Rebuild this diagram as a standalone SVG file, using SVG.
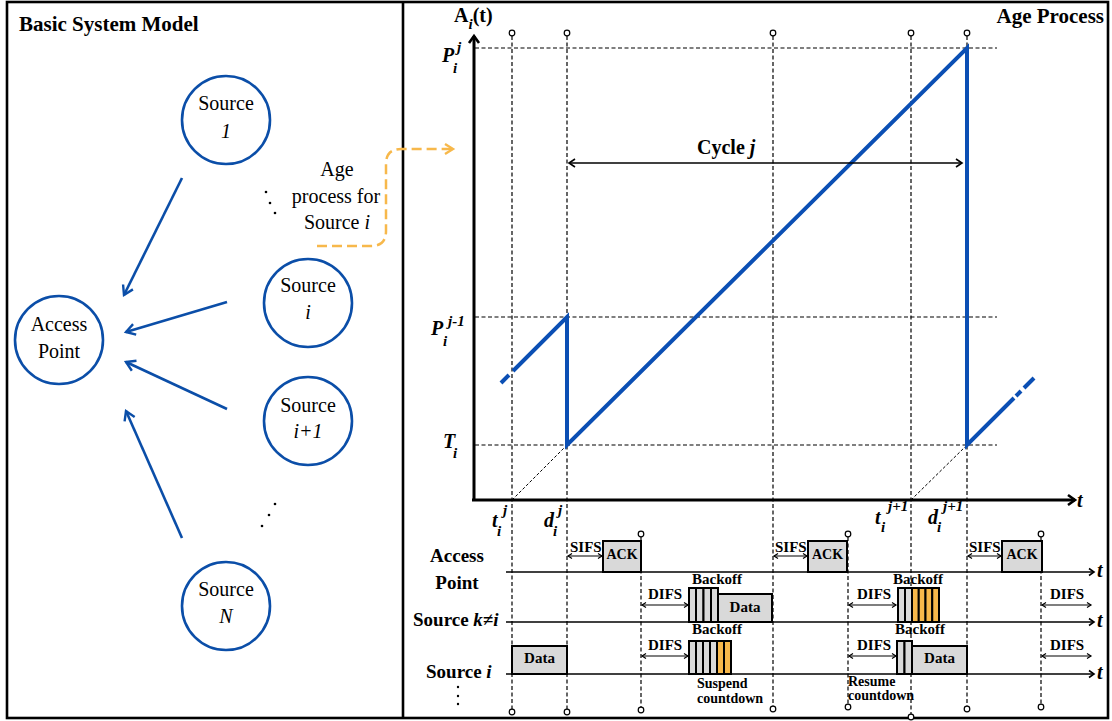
<svg xmlns="http://www.w3.org/2000/svg" width="1112" height="721" viewBox="0 0 1112 721">
<style>
.t{font-family:"Liberation Serif","Times New Roman",serif;fill:#000}
.b{font-weight:bold}
.it{font-style:italic}
.node{fill:#fff;stroke:#0b4ea8;stroke-width:2.6}
.nt{font-size:20px;text-anchor:middle}
.conn{stroke:#0b4ea8;stroke-width:2.6;fill:none;marker-end:url(#ab)}
.vd{stroke:#000;stroke-width:1.2;stroke-dasharray:4 2.5;fill:none}
.hd{stroke:#000;stroke-width:1.1;stroke-dasharray:4 2.5;fill:none}
.pin{fill:#fff;stroke:#000;stroke-width:1.2}
.age{stroke:#0b4fb4;stroke-width:4;fill:none}
.tl{stroke:#000;stroke-width:1.5;fill:none;marker-end:url(#as)}
.ia{stroke:#000;stroke-width:1.1;fill:none;marker-start:url(#ai);marker-end:url(#ai)}
.gb{fill:#d9d9d9;stroke:#000;stroke-width:2}
.ob{fill:#f7b84b;stroke:#000;stroke-width:2}
.lab{font-size:15px;font-weight:bold}
.sm{font-size:14px;font-weight:bold}
.ax{font-size:20px;font-weight:bold;font-style:italic}
.sp{font-size:15px;font-weight:bold;font-style:italic}
</style>
<defs>
<marker id="ab" markerUnits="userSpaceOnUse" markerWidth="14" markerHeight="14" refX="11" refY="7" orient="auto"><path d="M2,1.5 L11,7 L2,12.5" fill="none" stroke="#0b4ea8" stroke-width="2.4"/></marker>
<marker id="ao" markerUnits="userSpaceOnUse" markerWidth="14" markerHeight="14" refX="11" refY="7" orient="auto"><path d="M3,2 L11,7 L3,12" fill="none" stroke="#f7b84b" stroke-width="2.4"/></marker>
<marker id="ak" markerUnits="userSpaceOnUse" markerWidth="14" markerHeight="14" refX="11" refY="7" orient="auto"><path d="M4,2 L11,7 L4,12" fill="none" stroke="#000" stroke-width="2.6"/></marker>
<marker id="as" markerUnits="userSpaceOnUse" markerWidth="10" markerHeight="10" refX="8" refY="5" orient="auto"><path d="M3,1.5 L8,5 L3,8.5" fill="none" stroke="#000" stroke-width="1.6"/></marker>
<marker id="ai" markerUnits="userSpaceOnUse" markerWidth="8" markerHeight="8" refX="6" refY="4" orient="auto-start-reverse"><path d="M2,1.5 L6,4 L2,6.5" fill="none" stroke="#000" stroke-width="1.2"/></marker>
<marker id="ac" markerUnits="userSpaceOnUse" markerWidth="12" markerHeight="12" refX="9" refY="6" orient="auto-start-reverse"><path d="M3,2 L9,6 L3,10" fill="none" stroke="#000" stroke-width="1.6"/></marker>
</defs>
<rect x="0" y="0" width="1112" height="721" fill="#fff"/>
<!-- frames -->
<rect x="7" y="2" width="1101" height="716" fill="none" stroke="#000" stroke-width="2.6"/>
<line x1="403" y1="2" x2="403" y2="718" stroke="#000" stroke-width="2.6"/>
<text class="t b" x="19" y="31" font-size="21">Basic System Model</text>
<text class="t b" x="1104" y="23" font-size="21" text-anchor="end">Age Process</text>

<!-- nodes -->
<g id="source-1"><circle class="node" cx="226" cy="120" r="44"/><text class="t nt" x="226" y="110">Source</text><text class="t nt it" x="226" y="138">1</text></g>
<g id="access-point"><circle class="node" cx="59" cy="340" r="44"/><text class="t nt" x="59" y="331">Access</text><text class="t nt" x="59" y="358">Point</text></g>
<g id="source-i"><circle class="node" cx="308" cy="303" r="44"/><text class="t nt" x="308" y="292">Source</text><text class="t nt it" x="308" y="319">i</text></g>
<g id="source-i1"><circle class="node" cx="308" cy="421" r="44"/><text class="t nt" x="308" y="412">Source</text><text class="t nt it" x="308" y="438">i+1</text></g>
<g id="source-N"><circle class="node" cx="226" cy="606" r="44"/><text class="t nt" x="226" y="596">Source</text><text class="t nt it" x="226" y="623">N</text></g>

<g id="dots" fill="#000">
<circle cx="266" cy="192" r="1.3"/><circle cx="270" cy="203" r="1.3"/><circle cx="275" cy="213" r="1.3"/>
<circle cx="275" cy="504" r="1.3"/><circle cx="269" cy="515" r="1.3"/><circle cx="262" cy="526" r="1.3"/>
<circle cx="458" cy="687" r="1.2"/><circle cx="458" cy="696" r="1.2"/><circle cx="458" cy="704" r="1.2"/>
</g>

<g id="age-label"><text class="t nt" x="337" y="176">Age</text><text class="t nt" x="336" y="203">process for</text><text class="t nt" x="337" y="229">Source <tspan class="it">i</tspan></text></g>

<g id="connectors">
<line class="conn" x1="182" y1="178" x2="124" y2="295"/>
<line class="conn" x1="227" y1="302" x2="126" y2="332"/>
<line class="conn" x1="227" y1="409" x2="126" y2="362"/>
<line class="conn" x1="182" y1="538" x2="126" y2="411"/>
<path d="M317,246 H371 Q386,246 386,231 V164 Q386,149 401,149 H453" fill="none" stroke="#f7b84b" stroke-width="2.5" stroke-dasharray="10 5" marker-end="url(#ao)"/>
</g>

<!-- age plot -->
<g id="age-plot">
<line class="hd" x1="475" y1="48" x2="997" y2="48"/>
<line class="hd" x1="475" y1="317" x2="997" y2="317"/>
<line class="hd" x1="475" y1="445" x2="997" y2="445"/>
<line class="vd" x1="512" y1="36" x2="512" y2="709"/>
<line class="vd" x1="567" y1="36" x2="567" y2="709"/>
<line class="vd" x1="773" y1="36" x2="773" y2="706"/>
<line class="vd" x1="911" y1="36" x2="911" y2="714"/>
<line class="vd" x1="967" y1="36" x2="967" y2="706"/>
<line class="vd" x1="641" y1="537" x2="641" y2="707"/>
<line class="vd" x1="848" y1="537" x2="848" y2="704"/>
<line class="vd" x1="1041" y1="537" x2="1041" y2="704"/>
<circle class="pin" cx="512" cy="33" r="2.8"/><circle class="pin" cx="567" cy="33" r="2.8"/><circle class="pin" cx="773" cy="33" r="2.8"/><circle class="pin" cx="911" cy="33" r="2.8"/><circle class="pin" cx="967" cy="33" r="2.8"/>
<circle class="pin" cx="641" cy="534" r="2.8"/><circle class="pin" cx="848" cy="534" r="2.8"/><circle class="pin" cx="1041" cy="534" r="2.8"/>
<circle class="pin" cx="512" cy="712" r="2.8"/><circle class="pin" cx="567" cy="712" r="2.8"/><circle class="pin" cx="641" cy="710" r="2.8"/><circle class="pin" cx="773" cy="709" r="2.8"/><circle class="pin" cx="848" cy="707" r="2.8"/><circle class="pin" cx="911" cy="717" r="2.8"/><circle class="pin" cx="967" cy="709" r="2.8"/><circle class="pin" cx="1041" cy="707" r="2.8"/>
<line x1="512" y1="500" x2="567" y2="445" stroke="#000" stroke-width="1" stroke-dasharray="3 2"/>
<line x1="911" y1="500" x2="967" y2="445" stroke="#000" stroke-width="1" stroke-dasharray="3 2"/>
<line class="age" x1="501" y1="383" x2="509" y2="375"/>
<polyline class="age" points="513,371 567,317 567,445 967,48 967,445 1014,398"/>
<line class="age" x1="1016" y1="396" x2="1021" y2="391"/>
<line class="age" x1="1024" y1="388" x2="1034" y2="378"/>
<line x1="474" y1="501" x2="474" y2="36" stroke="#000" stroke-width="3" marker-end="url(#ak)"/>
<line x1="472" y1="500" x2="1075" y2="500" stroke="#000" stroke-width="3" marker-end="url(#ak)"/>
<line x1="569" y1="163" x2="962" y2="163" stroke="#000" stroke-width="1.6" marker-start="url(#ac)" marker-end="url(#ac)"/>
<text class="t b" x="697" y="154" font-size="20">Cycle <tspan class="it">j</tspan></text>
<text class="t b" x="454" y="22" font-size="20">A<tspan class="it" font-size="15" dy="7">i</tspan><tspan dy="-7">(t)</tspan></text>
<text class="t ax" x="1077" y="507">t</text>
<text class="t ax"><tspan x="442" y="62">P</tspan><tspan class="sp" x="457" y="52">j</tspan><tspan class="sp" x="453" y="73">i</tspan></text>
<text class="t ax"><tspan x="431" y="335">P</tspan><tspan class="sp" x="448" y="326">j-1</tspan><tspan class="sp" x="443" y="346">i</tspan></text>
<text class="t ax"><tspan x="443" y="448">T</tspan><tspan class="sp" x="453" y="458">i</tspan></text>
<text class="t ax"><tspan x="492" y="527">t</tspan><tspan class="sp" x="503" y="515">j</tspan><tspan class="sp" x="497" y="536">i</tspan></text>
<text class="t ax"><tspan x="544" y="527">d</tspan><tspan class="sp" x="558" y="515">j</tspan><tspan class="sp" x="553" y="536">i</tspan></text>
<text class="t ax"><tspan x="875" y="524">t</tspan><tspan class="sp" x="888" y="511">j+1</tspan><tspan class="sp" x="881" y="532">i</tspan></text>
<text class="t ax"><tspan x="928" y="524">d</tspan><tspan class="sp" x="943" y="511">j+1</tspan><tspan class="sp" x="937" y="532">i</tspan></text>
</g>

<!-- timing diagram -->
<g id="timing">
<line class="tl" x1="506" y1="572" x2="1094" y2="572"/>
<line class="tl" x1="506" y1="622" x2="1094" y2="622"/>
<line class="tl" x1="506" y1="674" x2="1094" y2="674"/>
<text class="t ax" x="1097" y="577">t</text>
<text class="t ax" x="1097" y="627">t</text>
<text class="t ax" x="1097" y="679">t</text>
<text class="t b" x="457" y="562" font-size="19" text-anchor="middle">Access</text>
<text class="t b" x="457" y="589" font-size="19" text-anchor="middle">Point</text>
<text class="t b" x="413" y="626" font-size="19">Source <tspan class="it">k≠i</tspan></text>
<text class="t b" x="426" y="678" font-size="19">Source <tspan class="it">i</tspan></text>

<!-- AP row -->
<line class="ia" x1="568" y1="556" x2="602" y2="556"/>
<line class="ia" x1="774" y1="556" x2="807" y2="556"/>
<line class="ia" x1="968" y1="556" x2="1001" y2="556"/>
<text class="t lab" x="570" y="552">SIFS</text>
<text class="t lab" x="775" y="552">SIFS</text>
<text class="t lab" x="969" y="552">SIFS</text>
<rect class="gb" x="603" y="541" width="38" height="31"/>
<rect class="gb" x="808" y="541" width="39" height="31"/>
<rect class="gb" x="1002" y="541" width="40" height="31"/>
<text class="t sm" x="622" y="559" text-anchor="middle">ACK</text>
<text class="t sm" x="827.5" y="559" text-anchor="middle">ACK</text>
<text class="t sm" x="1022" y="559" text-anchor="middle">ACK</text>

<!-- Source k row -->
<line class="ia" x1="642" y1="605" x2="688" y2="605"/>
<line class="ia" x1="849" y1="605" x2="896" y2="605"/>
<line class="ia" x1="1042" y1="605" x2="1091" y2="605"/>
<text class="t lab" x="648" y="599">DIFS</text>
<text class="t lab" x="857" y="599">DIFS</text>
<text class="t lab" x="1050" y="599">DIFS</text>
<rect class="gb" x="689" y="588" width="7" height="34"/><rect class="gb" x="696" y="588" width="7.5" height="34"/><rect class="gb" x="703.5" y="588" width="7.5" height="34"/><rect class="gb" x="711" y="588" width="7" height="34"/>
<rect class="gb" x="718" y="594" width="54" height="28"/>
<text class="t lab" x="745" y="612" text-anchor="middle">Data</text>
<text class="t lab" x="692" y="584">Backoff</text>
<rect class="gb" x="898" y="588" width="7" height="34"/><rect class="gb" x="905" y="588" width="7" height="34"/>
<rect class="ob" x="912" y="588" width="6.75" height="34"/><rect class="ob" x="918.75" y="588" width="6.75" height="34"/><rect class="ob" x="925.5" y="588" width="6.75" height="34"/><rect class="ob" x="932.25" y="588" width="6.75" height="34"/>
<text class="t lab" x="893" y="584">Backoff</text>

<!-- Source i row -->
<rect class="gb" x="512" y="646" width="55" height="28"/>
<text class="t lab" x="539.5" y="663" text-anchor="middle">Data</text>
<line class="ia" x1="642" y1="656" x2="688" y2="656"/>
<line class="ia" x1="849" y1="656" x2="896" y2="656"/>
<line class="ia" x1="1042" y1="656" x2="1091" y2="656"/>
<text class="t lab" x="648" y="650">DIFS</text>
<text class="t lab" x="857" y="650">DIFS</text>
<text class="t lab" x="1050" y="650">DIFS</text>
<rect class="gb" x="689" y="641" width="7" height="33"/><rect class="gb" x="696" y="641" width="7" height="33"/><rect class="gb" x="703" y="641" width="7" height="33"/><rect class="gb" x="710" y="641" width="7" height="33"/>
<rect class="ob" x="717" y="641" width="7" height="33"/><rect class="ob" x="724" y="641" width="7" height="33"/>
<text class="t lab" x="692" y="634">Backoff</text>
<text class="t sm" x="697" y="688">Suspend</text>
<text class="t sm" x="697" y="703">countdown</text>
<rect class="gb" x="897" y="641" width="7.5" height="33"/><rect class="gb" x="904.5" y="641" width="7.5" height="33"/>
<rect class="gb" x="912" y="646" width="55" height="28"/>
<text class="t lab" x="939.5" y="663" text-anchor="middle">Data</text>
<text class="t lab" x="895" y="634">Backoff</text>
<text class="t sm" x="848" y="686">Resume</text>
<text class="t sm" x="848" y="700">countdown</text>
</g>
</svg>
